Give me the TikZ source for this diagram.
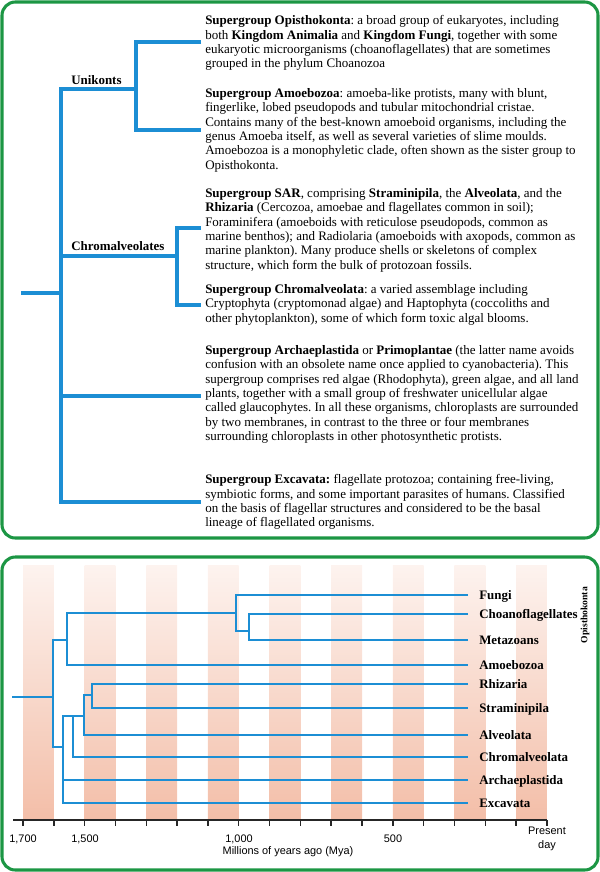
\documentclass[tikz,border=0pt]{standalone}
\usepackage{fontspec}
\setmainfont{Liberation Serif}
\setsansfont{Liberation Sans}
\usepackage{tikz}
\usetikzlibrary{calc}

\definecolor{panelgreen}{RGB}{28,150,68}
\definecolor{treeblue}{RGB}{28,142,212}
\definecolor{stripetop}{RGB}{253,243,239}
\definecolor{stripebot}{RGB}{243,190,168}
\frenchspacing

\begin{document}
\begin{tikzpicture}[
    x=0.75pt, y=-0.75pt,
    panel/.style={draw=panelgreen, line width=2.3pt, rounded corners=10pt},
    limb/.style={draw=treeblue, line width=2.3pt, line join=miter},
    twig/.style={draw=treeblue, line width=1.8pt, line join=miter},
    para/.style={anchor=north west, inner sep=0pt, align=left, font=\fontsize{9.75}{10.76}\selectfont},
    clade/.style={anchor=base west, inner sep=0pt, font=\fontsize{9.7}{11}\selectfont\bfseries},
    taxon/.style={anchor=base west, inner sep=0pt, font=\fontsize{9.7}{11}\selectfont\bfseries},
    notch/.style={line width=1.1pt, draw=black!85},
    yearlbl/.style={inner sep=0pt, align=center, font=\sffamily\fontsize{8.2}{10.5}\selectfont}
]
\useasboundingbox (0,0) rectangle (600,872);

% upper panel: supergroups
\draw[panel] (2,2) rectangle (598,538);

\coordinate (r0) at (21,293);
\coordinate (r) at (61,293);
\coordinate (uni) at (136,89);
\coordinate (chr) at (177,256);
\coordinate (opi) at (201,42);
\coordinate (amo) at (201,130);
\coordinate (sar) at (201,228);
\coordinate (chv) at (201,305);
\coordinate (arc) at (201,396);
\coordinate (exc) at (201,502);
\draw[limb] (r0) -- (r);
\draw[limb] (uni) -| (r) |- (exc);
\draw[limb] (r |- chr) -- (chr);
\draw[limb] (r |- arc) -- (arc);
\draw[limb] (opi) -| (uni) |- (amo);
\draw[limb] (sar) -| (chr) |- (chv);

\node[clade] (luni) at (71,84) {Unikonts};
\node[clade] (lchr) at (71,250) {Chromalveolates};

\node[para] (popi) at (205,15.3) {\textbf{Supergroup Opisthokonta}: a broad group of eukaryotes, including\\
both \textbf{Kingdom Animalia} and \textbf{Kingdom Fungi}, together with some\\
eukaryotic microorganisms (choanoflagellates) that are sometimes\\
grouped in the phylum Choanozoa};
\node[para] (pamo) at (205,88.3) {\textbf{Supergroup Amoebozoa}: amoeba-like protists, many with blunt,\\
fingerlike, lobed pseudopods and tubular mitochondrial cristae.\\
Contains many of the best-known amoeboid organisms, including the\\
genus Amoeba itself, as well as several varieties of slime moulds.\\
Amoebozoa is a monophyletic clade, often shown as the sister group to\\
Opisthokonta.};
\node[para] (psar) at (205,188.3) {\textbf{Supergroup SAR}, comprising \textbf{Straminipila}, the \textbf{Alveolata}, and the\\
\textbf{Rhizaria} (Cercozoa, amoebae and flagellates common in soil);\\
Foraminifera (amoeboids with reticulose pseudopods, common as\\
marine benthos); and Radiolaria (amoeboids with axopods, common as\\
marine plankton). Many produce shells or skeletons of complex\\
structure, which form the bulk of protozoan fossils.};
\node[para] (pchv) at (205,284.3) {\textbf{Supergroup Chromalveolata}: a varied assemblage including\\
Cryptophyta (cryptomonad algae) and Haptophyta (coccoliths and\\
other phytoplankton), some of which form toxic algal blooms.};
\node[para] (parc) at (205,345.3) {\textbf{Supergroup Archaeplastida} or \textbf{Primoplantae} (the latter name avoids\\
confusion with an obsolete name once applied to cyanobacteria). This\\
supergroup comprises red algae (Rhodophyta), green algae, and all land\\
plants, together with a small group of freshwater unicellular algae\\
called glaucophytes. In all these organisms, chloroplasts are surrounded\\
by two membranes, in contrast to the three or four membranes\\
surrounding chloroplasts in other photosynthetic protists.};
\node[para] (pexc) at (205,474.3) {\textbf{Supergroup Excavata:} flagellate protozoa; containing free-living,\\
symbiotic forms, and some important parasites of humans. Classified\\
on the basis of flagellar structures and considered to be the basal\\
lineage of flagellated organisms.};

% lower panel: timescale
\draw[panel] (2,557) rectangle (598,870);
\foreach \i in {0,...,8}
    \shade[top color=stripetop, bottom color=stripebot] ({23+61.64*\i},565) rectangle ({53.82+61.64*\i},820);

\coordinate (t0) at (13,820);
\coordinate (t1) at (547,820);
\draw[notch] (t0) -- (t1);
\foreach \i in {0,...,17}
    \draw[notch] ({23+30.82*\i},820) -- ++(0,6);

\node[yearlbl] (y1700) at (23,839) {1,700};
\node[yearlbl] (y1500) at (85,839) {1,500};
\node[yearlbl] (y1000) at (239,839) {1,000};
\node[yearlbl] (y500) at (393,839) {500};
\node[yearlbl] (y0) at (547,839) {Present\\day};
\node[yearlbl] (ylab) at (288,852) {Millions of years ago (Mya)};

\foreach \y/\t/\n in {595/Fungi/fun, 614/Choanoflagellates/cho, 640/Metazoans/met,
        665/Amoebozoa/amo, 684/Rhizaria/rhi, 708/Straminipila/str, 735/Alveolata/alv,
        757/Chromalveolata/chr, 780/Archaeplastida/arc, 803/Excavata/exc} {
    \coordinate (t\n) at (468,\y);
    \node[taxon] (l\n) at (479,{\y+4.3}) {\t};
}
\node[rotate=90, inner sep=0pt, font=\fontsize{7.2}{8}\selectfont\bfseries] (lopi) at (585,615) {Opisthokonta};

\coordinate (b0) at (12,697);
\coordinate (b) at (53,697);
\coordinate (buni) at (67,640);
\coordinate (bopf) at (236,613);
\coordinate (bchm) at (249,631);
\coordinate (bbik) at (63,747);
\coordinate (bchs) at (73,716);
\coordinate (bsar) at (84,716);
\coordinate (brs) at (92,695);
\draw[twig] (b0) -- (b);
\draw[twig] (buni) -| (b) |- (bbik);
\draw[twig] (bopf) -| (buni) |- (tamo);
\draw[twig] (tfun) -| (bopf) |- (bchm);
\draw[twig] (tcho) -| (bchm) |- (tmet);
\draw[twig] (bsar) -- (bchs) -| (bbik) |- (texc);
\draw[twig] (bbik |- tarc) -- (tarc);
\draw[twig] (bchs) |- (tchr);
\draw[twig] (brs) -| (bsar) |- (talv);
\draw[twig] (trhi) -| (brs) |- (tstr);

\end{tikzpicture}
\end{document}
